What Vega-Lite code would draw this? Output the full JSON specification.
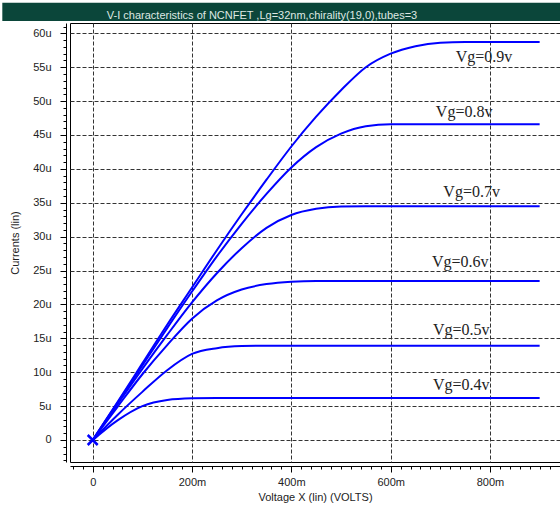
{
  "$schema": "https://vega.github.io/schema/vega-lite/v6.json",
  "width": 490,
  "height": 439,
  "autosize": {"type": "none"},
  "padding": {"left": 70, "top": 23, "right": 0, "bottom": 45},
  "background": "white",
  "title": {
    "text": "V-I characteristics of NCNFET ,Lg=32nm,chirality(19,0),tubes=3",
    "frame": "group",
    "anchor": "middle",
    "orient": "top",
    "offset": -27,
    "baseline": "alphabetic",
    "dx": -53,
    "font": "Liberation Sans",
    "fontSize": 11,
    "fontWeight": "normal",
    "color": "#dfe8e3",
    "zindex": 2
  },
  "config": {
    "view": {"stroke": "#000000", "strokeWidth": 1},
    "font": "Liberation Sans"
  },
  "datasets": {
    "curves": [
      {"vg": "0.9", "v": 0, "i": 0}, {"vg": "0.9", "v": 0.05, "i": 5.6}, {"vg": "0.9", "v": 0.1, "i": 11.3}, {"vg": "0.9", "v": 0.15, "i": 17.0}, {"vg": "0.9", "v": 0.2, "i": 22.5}, {"vg": "0.9", "v": 0.25, "i": 28.0}, {"vg": "0.9", "v": 0.3, "i": 33.3}, {"vg": "0.9", "v": 0.35, "i": 38.4}, {"vg": "0.9", "v": 0.4, "i": 43.3}, {"vg": "0.9", "v": 0.45, "i": 47.7}, {"vg": "0.9", "v": 0.5, "i": 51.6}, {"vg": "0.9", "v": 0.55, "i": 55.0}, {"vg": "0.9", "v": 0.6, "i": 57.0}, {"vg": "0.9", "v": 0.65, "i": 58.1}, {"vg": "0.9", "v": 0.7, "i": 58.6}, {"vg": "0.9", "v": 0.75, "i": 58.7}, {"vg": "0.9", "v": 0.9, "i": 58.7},
      {"vg": "0.8", "v": 0, "i": 0}, {"vg": "0.8", "v": 0.05, "i": 5.5}, {"vg": "0.8", "v": 0.1, "i": 11.0}, {"vg": "0.8", "v": 0.15, "i": 16.5}, {"vg": "0.8", "v": 0.2, "i": 21.9}, {"vg": "0.8", "v": 0.25, "i": 27.1}, {"vg": "0.8", "v": 0.3, "i": 31.9}, {"vg": "0.8", "v": 0.35, "i": 36.3}, {"vg": "0.8", "v": 0.4, "i": 40.2}, {"vg": "0.8", "v": 0.45, "i": 43.2}, {"vg": "0.8", "v": 0.5, "i": 45.2}, {"vg": "0.8", "v": 0.55, "i": 46.3}, {"vg": "0.8", "v": 0.6, "i": 46.6}, {"vg": "0.8", "v": 0.9, "i": 46.6},
      {"vg": "0.7", "v": 0, "i": 0}, {"vg": "0.7", "v": 0.05, "i": 5.3}, {"vg": "0.7", "v": 0.1, "i": 10.5}, {"vg": "0.7", "v": 0.15, "i": 15.5}, {"vg": "0.7", "v": 0.2, "i": 20.3}, {"vg": "0.7", "v": 0.25, "i": 24.6}, {"vg": "0.7", "v": 0.3, "i": 28.3}, {"vg": "0.7", "v": 0.35, "i": 31.3}, {"vg": "0.7", "v": 0.4, "i": 33.2}, {"vg": "0.7", "v": 0.45, "i": 34.1}, {"vg": "0.7", "v": 0.5, "i": 34.45}, {"vg": "0.7", "v": 0.55, "i": 34.5}, {"vg": "0.7", "v": 0.9, "i": 34.5},
      {"vg": "0.6", "v": 0, "i": 0}, {"vg": "0.6", "v": 0.05, "i": 4.9}, {"vg": "0.6", "v": 0.1, "i": 9.7}, {"vg": "0.6", "v": 0.15, "i": 14.0}, {"vg": "0.6", "v": 0.2, "i": 17.9}, {"vg": "0.6", "v": 0.25, "i": 20.6}, {"vg": "0.6", "v": 0.3, "i": 22.2}, {"vg": "0.6", "v": 0.35, "i": 23.0}, {"vg": "0.6", "v": 0.4, "i": 23.35}, {"vg": "0.6", "v": 0.45, "i": 23.45}, {"vg": "0.6", "v": 0.9, "i": 23.45},
      {"vg": "0.5", "v": 0, "i": 0}, {"vg": "0.5", "v": 0.05, "i": 3.7}, {"vg": "0.5", "v": 0.1, "i": 7.1}, {"vg": "0.5", "v": 0.15, "i": 10.3}, {"vg": "0.5", "v": 0.2, "i": 12.7}, {"vg": "0.5", "v": 0.25, "i": 13.55}, {"vg": "0.5", "v": 0.3, "i": 13.85}, {"vg": "0.5", "v": 0.35, "i": 13.9}, {"vg": "0.5", "v": 0.9, "i": 13.9},
      {"vg": "0.4", "v": 0, "i": 0}, {"vg": "0.4", "v": 0.05, "i": 2.9}, {"vg": "0.4", "v": 0.1, "i": 5.0}, {"vg": "0.4", "v": 0.15, "i": 5.9}, {"vg": "0.4", "v": 0.2, "i": 6.15}, {"vg": "0.4", "v": 0.25, "i": 6.2}, {"vg": "0.4", "v": 0.9, "i": 6.2}
    ],
    "labels": [
      {"label": "Vg=0.9v", "v": 0.788, "i": 56.5},
      {"label": "Vg=0.8v", "v": 0.748, "i": 48.4},
      {"label": "Vg=0.7v", "v": 0.763, "i": 36.6},
      {"label": "Vg=0.6v", "v": 0.74, "i": 26.3},
      {"label": "Vg=0.5v", "v": 0.742, "i": 16.2},
      {"label": "Vg=0.4v", "v": 0.742, "i": 8.1}
    ],
    "origin": [{"v": 0, "i": 0}]
  },
  "layer": [
    {
      "data": {"values": [{}]},
      "mark": {"type": "rect", "clip": false, "color": "#0b463a"},
      "encoding": {
        "x": {"datum": -0.182, "type": "quantitative", "scale": {"domain": [-0.0457, 0.941], "nice": false, "zero": false}, "axis": null},
        "x2": {"datum": 0.96},
        "y": {"datum": 64.5, "type": "quantitative", "scale": {"domain": [-3.246, 61.52], "nice": false, "zero": false}, "axis": null},
        "y2": {"datum": 61.8}
      }
    },
    {
      "data": {"name": "curves"},
      "mark": {"type": "line", "color": "#0000ff", "strokeWidth": 2, "interpolate": "monotone"},
      "encoding": {
        "x": {
          "field": "v", "type": "quantitative",
          "axis": {
            "values": [0, 0.2, 0.4, 0.6, 0.8],
            "labelExpr": "datum.value == 0 ? '0' : round(datum.value * 1000) + 'm'",
            "title": "Voltage X (lin) (VOLTS)",
            "orient": "bottom",
            "offset": 4,
            "tickSize": 6,
            "tickColor": "#000000",
            "domainColor": "#000000",
            "labelPadding": 4,
            "labelFontSize": 11,
            "labelColor": "#222222",
            "titleFontSize": 11,
            "titleFontWeight": "normal",
            "titleColor": "#222222",
            "titlePadding": 4,
            "grid": true,
            "gridDash": [4, 2],
            "gridColor": "#333333",
            "gridOpacity": 1
          }
        },
        "y": {
          "field": "i", "type": "quantitative",
          "axis": {
            "values": [0, 5, 10, 15, 20, 25, 30, 35, 40, 45, 50, 55, 60],
            "labelExpr": "datum.value == 0 ? '0' : datum.value + 'u'",
            "title": "Currents (lin)",
            "orient": "left",
            "offset": 4,
            "tickSize": 6,
            "tickColor": "#000000",
            "domainColor": "#000000",
            "labelPadding": 9,
            "labelFontSize": 11,
            "labelColor": "#222222",
            "titleFontSize": 11,
            "titleFontWeight": "normal",
            "titleColor": "#222222",
            "titlePadding": 12,
            "grid": true,
            "gridDash": [4, 2],
            "gridColor": "#333333",
            "gridOpacity": 1
          }
        },
        "detail": {"field": "vg", "type": "nominal"}
      }
    },
    {
      "data": {"name": "labels"},
      "mark": {"type": "text", "font": "Liberation Serif", "fontSize": 16, "color": "#222222", "align": "center", "baseline": "middle"},
      "encoding": {
        "x": {"field": "v", "type": "quantitative", "axis": null},
        "y": {"field": "i", "type": "quantitative", "axis": null},
        "text": {"field": "label", "type": "nominal"}
      }
    },
    {
      "data": {"name": "origin"},
      "mark": {"type": "point", "shape": "M-1,-1L1,1M-1,1L1,-1", "size": 100, "filled": false, "color": "#0000ff", "strokeWidth": 2.5, "opacity": 1},
      "encoding": {
        "x": {
          "field": "v", "type": "quantitative",
          "axis": {
            "values": [-0.04, -0.02, 0, 0.02, 0.04, 0.06, 0.08, 0.1, 0.12, 0.14, 0.16, 0.18, 0.2, 0.22, 0.24, 0.26, 0.28, 0.3, 0.32, 0.34, 0.36, 0.38, 0.4, 0.42, 0.44, 0.46, 0.48, 0.5, 0.52, 0.54, 0.56, 0.58, 0.6, 0.62, 0.64, 0.66, 0.68, 0.7, 0.72, 0.74, 0.76, 0.78, 0.8, 0.82, 0.84, 0.86, 0.88, 0.9, 0.92, 0.94],
            "orient": "bottom", "offset": 4, "tickSize": 3, "tickColor": "#000000",
            "labels": false, "domain": false, "grid": false, "title": null
          }
        },
        "y": {
          "field": "i", "type": "quantitative",
          "axis": {
            "values": [-3, -2, -1, 0, 1, 2, 3, 4, 5, 6, 7, 8, 9, 10, 11, 12, 13, 14, 15, 16, 17, 18, 19, 20, 21, 22, 23, 24, 25, 26, 27, 28, 29, 30, 31, 32, 33, 34, 35, 36, 37, 38, 39, 40, 41, 42, 43, 44, 45, 46, 47, 48, 49, 50, 51, 52, 53, 54, 55, 56, 57, 58, 59, 60, 61],
            "orient": "left", "offset": 4, "tickSize": 3, "tickColor": "#000000",
            "labels": false, "domain": false, "grid": false, "title": null
          }
        }
      }
    }
  ],
  "resolve": {"axis": {"x": "independent", "y": "independent"}}
}
